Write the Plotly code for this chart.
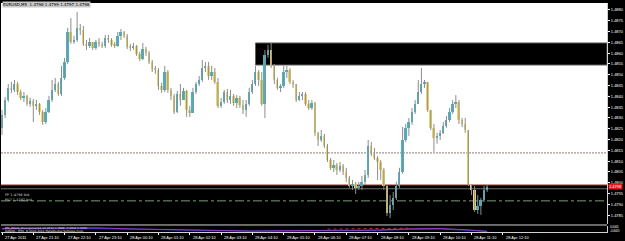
import plotly.graph_objects as go

# ---------------- data (EURUSD bars) ----------------
first_open = 1.48254
closes = [1.48314, 1.48383, 1.48439, 1.48430, 1.48457, 1.48420, 1.48393, 1.48402, 1.48365, 1.48379,
          1.48356, 1.48365, 1.48328, 1.48281, 1.48328, 1.48383, 1.48430, 1.48457, 1.48411, 1.48485,
          1.48559, 1.48698, 1.48652, 1.48661, 1.48717, 1.48707, 1.48643, 1.48633, 1.48652, 1.48624,
          1.48652, 1.48643, 1.48633, 1.48670, 1.48661, 1.48638, 1.48633, 1.48680, 1.48698, 1.48680,
          1.48629, 1.48624, 1.48633, 1.48596, 1.48573, 1.48619, 1.48601, 1.48559, 1.48527, 1.48522,
          1.48448, 1.48430, 1.48513, 1.48430, 1.48402, 1.48328, 1.48411, 1.48383, 1.48425, 1.48337,
          1.48323, 1.48420, 1.48457, 1.48476, 1.48531, 1.48541, 1.48494, 1.48513, 1.48467, 1.48356,
          1.48374, 1.48420, 1.48383, 1.48402, 1.48369, 1.48393, 1.48360, 1.48337, 1.48365, 1.48420,
          1.48457, 1.48513, 1.48476, 1.48365, 1.48592, 1.48615, 1.48541, 1.48476, 1.48439, 1.48448,
          1.48513, 1.48522, 1.48467, 1.48457, 1.48383, 1.48402, 1.48411, 1.48365, 1.48346, 1.48369,
          1.48231, 1.48198, 1.48217, 1.48170, 1.48105, 1.48069, 1.48082, 1.48059, 1.48078, 1.48050,
          1.48022, 1.47985, 1.47994, 1.47976, 1.47985, 1.48004, 1.48036, 1.48170, 1.48143, 1.48115,
          1.48096, 1.48059, 1.47985, 1.47860, 1.47897, 1.47930, 1.47985, 1.48050, 1.48198, 1.48254,
          1.48281, 1.48328, 1.48365, 1.48420, 1.48457, 1.48467, 1.48337, 1.48254, 1.48207, 1.48217,
          1.48231, 1.48263, 1.48291, 1.48328, 1.48365, 1.48374, 1.48291, 1.48272, 1.48244, 1.47994,
          1.47967, 1.47874, 1.47893, 1.47920, 1.47967, 1.47981]
highs = [1.48337, 1.48397, 1.48457, 1.48467, 1.48476, 1.48467, 1.48430, 1.48420, 1.48406, 1.48393,
         1.48388, 1.48383, 1.48369, 1.48337, 1.48346, 1.48402, 1.48476, 1.48485, 1.48467, 1.48541,
         1.48578, 1.48717, 1.48763, 1.48680, 1.48791, 1.48735, 1.48726, 1.48661, 1.48670, 1.48652,
         1.48661, 1.48670, 1.48652, 1.48684, 1.48684, 1.48670, 1.48652, 1.48698, 1.48712, 1.48703,
         1.48689, 1.48643, 1.48647, 1.48638, 1.48606, 1.48647, 1.48629, 1.48610, 1.48568, 1.48541,
         1.48531, 1.48462, 1.48541, 1.48522, 1.48439, 1.48411, 1.48425, 1.48457, 1.48439, 1.48430,
         1.48356, 1.48439, 1.48467, 1.48494, 1.48568, 1.48559, 1.48559, 1.48541, 1.48531, 1.48485,
         1.48393, 1.48430, 1.48434, 1.48430, 1.48411, 1.48406, 1.48402, 1.48383, 1.48383, 1.48439,
         1.48476, 1.48541, 1.48522, 1.48513, 1.48615, 1.48638, 1.48647, 1.48550, 1.48485, 1.48457,
         1.48541, 1.48541, 1.48531, 1.48476, 1.48457, 1.48420, 1.48420, 1.48420, 1.48383, 1.48383,
         1.48374, 1.48235, 1.48244, 1.48226, 1.48180, 1.48115, 1.48105, 1.48092, 1.48096, 1.48087,
         1.48069, 1.48031, 1.48013, 1.48004, 1.48004, 1.48031, 1.48059, 1.48198, 1.48189, 1.48161,
         1.48124, 1.48105, 1.48069, 1.47990, 1.47943, 1.47957, 1.48004, 1.48069, 1.48258, 1.48272,
         1.48300, 1.48346, 1.48383, 1.48476, 1.48531, 1.48476, 1.48467, 1.48337, 1.48272, 1.48231,
         1.48244, 1.48281, 1.48309, 1.48346, 1.48383, 1.48406, 1.48383, 1.48300, 1.48300, 1.48244,
         1.47994, 1.47985, 1.47943, 1.47930, 1.47985, 1.47990]
lows = [1.48221, 1.48300, 1.48374, 1.48416, 1.48420, 1.48406, 1.48383, 1.48374, 1.48356, 1.48351,
        1.48281, 1.48337, 1.48314, 1.48268, 1.48272, 1.48323, 1.48374, 1.48420, 1.48402, 1.48402,
        1.48476, 1.48550, 1.48643, 1.48643, 1.48652, 1.48684, 1.48633, 1.48615, 1.48624, 1.48615,
        1.48615, 1.48629, 1.48624, 1.48624, 1.48647, 1.48629, 1.48624, 1.48629, 1.48661, 1.48670,
        1.48619, 1.48610, 1.48615, 1.48587, 1.48564, 1.48568, 1.48587, 1.48550, 1.48513, 1.48504,
        1.48430, 1.48416, 1.48420, 1.48416, 1.48383, 1.48318, 1.48323, 1.48356, 1.48383, 1.48305,
        1.48305, 1.48323, 1.48411, 1.48448, 1.48467, 1.48513, 1.48476, 1.48476, 1.48457, 1.48346,
        1.48346, 1.48365, 1.48369, 1.48365, 1.48356, 1.48346, 1.48346, 1.48318, 1.48305, 1.48356,
        1.48411, 1.48448, 1.48448, 1.48356, 1.48300, 1.48578, 1.48531, 1.48457, 1.48430, 1.48420,
        1.48439, 1.48485, 1.48457, 1.48439, 1.48374, 1.48379, 1.48383, 1.48356, 1.48337, 1.48337,
        1.48217, 1.48170, 1.48189, 1.48161, 1.48096, 1.48059, 1.48050, 1.48036, 1.48050, 1.48036,
        1.48004, 1.47976, 1.47967, 1.47948, 1.47967, 1.47967, 1.47990, 1.48022, 1.48124, 1.48105,
        1.48013, 1.48013, 1.47967, 1.47846, 1.47837, 1.47874, 1.47920, 1.47976, 1.48041, 1.48189,
        1.48217, 1.48268, 1.48318, 1.48365, 1.48411, 1.48439, 1.48328, 1.48244, 1.48143, 1.48180,
        1.48198, 1.48226, 1.48254, 1.48281, 1.48318, 1.48346, 1.48272, 1.48258, 1.48231, 1.47985,
        1.47943, 1.47865, 1.47856, 1.47851, 1.47911, 1.47957]
# each bar opens where the previous one closed
opens = [first_open] + closes[:-1]

time_labels = ["27 Apr 2011", "27 Apr 21:10", "27 Apr 22:10", "27 Apr 23:10", "28 Apr 00:10",
               "28 Apr 01:10", "28 Apr 02:10", "28 Apr 03:10", "28 Apr 04:10", "28 Apr 05:10",
               "28 Apr 06:10", "28 Apr 07:10", "28 Apr 08:10", "28 Apr 09:10", "28 Apr 10:10",
               "28 Apr 11:10", "28 Apr 12:10"]
label_bars = [0, 10, 20, 30, 40, 50, 60, 70, 80, 90, 100, 110, 120, 130, 140, 150, 160]

price_ticks = [1.4785, 1.4790, 1.4795, 1.4800, 1.4805, 1.4810, 1.4815, 1.4820, 1.4825, 1.4830,
               1.4835, 1.4840, 1.4845, 1.4850, 1.4855, 1.4860, 1.4865, 1.4870, 1.4875, 1.4880]

# levels / zones
zone_top = [1.48545, 1.48647]      # black supply box
zone_bottom_top = 1.47990          # top of black lower zone
dashed_level = 1.48138
dashdot_level = 1.47916
bid_price = 1.47981

# sub-window oscillator
sub_bars = [0, 10, 20, 30, 40, 50, 60, 70, 80, 90, 100, 110, 120, 130, 140, 150, 155]
osc_purple = [0.55, 0.60, 0.70, 0.65, 0.50, 0.40, 0.30, 0.20, 0.15, 0.20, 0.25, 0.20, 0.30, 0.50, 0.55, 0.30, 0.10]
osc_blue = [0.45, 0.50, 0.55, 0.55, 0.45, 0.35, 0.28, 0.18, 0.12, 0.15, 0.20, 0.18, 0.25, 0.40, 0.45, 0.25, 0.08]
red_bars = [104, 115, 125, 130]
osc_red = [0.45, 0.55, 0.60, 0.60]
sub_lines = ["RSI_MACD_Divergence(14,12,26,9) 0.4999 -0.0002 0.0000",
             "OANDA - MT4, © 2001-2011 MetaQuotes Software Corp."]
sub_ticks = ["0.0005", "-0.0005"]

# ---------------- figure ----------------
UP = "#40b8cc"
DN = "#ecd66c"
FONT = "DejaVu Sans"
AXFONT = "Liberation Sans"

n = len(closes)
idx = list(range(n))

wx, wy = [], []
for i in idx:
    wx += [i, i, None]
    wy += [lows[i], highs[i], None]

up_i = [i for i in idx if closes[i] >= opens[i]]
dn_i = [i for i in idx if closes[i] < opens[i]]
minh = 0.00003

def bodies(ids):
    base = [min(opens[i], closes[i]) for i in ids]
    hgt = [max(abs(closes[i] - opens[i]), minh) for i in ids]
    return base, hgt

fig = go.Figure()
fig.add_trace(go.Scatter(x=wx, y=wy, mode="lines", line=dict(color="#8c8c8c", width=1),
                         hoverinfo="skip", showlegend=False, xaxis="x", yaxis="y"))
b, h = bodies(up_i)
fig.add_trace(go.Bar(x=up_i, y=h, base=b, width=0.62, marker=dict(color=UP, line=dict(width=0)),
                     showlegend=False, xaxis="x", yaxis="y", hoverinfo="skip"))
b, h = bodies(dn_i)
fig.add_trace(go.Bar(x=dn_i, y=h, base=b, width=0.62, marker=dict(color=DN, line=dict(width=0)),
                     showlegend=False, xaxis="x", yaxis="y", hoverinfo="skip"))

fig.add_trace(go.Scatter(x=sub_bars, y=osc_blue, mode="lines", line=dict(color="#3030c0", width=1),
                         showlegend=False, xaxis="x", yaxis="y2", hoverinfo="skip"))
fig.add_trace(go.Scatter(x=sub_bars, y=osc_purple, mode="lines", line=dict(color="#9040c8", width=1),
                         showlegend=False, xaxis="x", yaxis="y2", hoverinfo="skip"))
fig.add_trace(go.Scatter(x=red_bars, y=osc_red, mode="lines", line=dict(color="#c03030", width=1, dash="dot"),
                         showlegend=False, xaxis="x", yaxis="y2", hoverinfo="skip"))

YMIN, YMAX = 1.47809, 1.48832
XMIN, XMAX = -0.32, 193.3

shapes = [
    # white main pane
    dict(type="rect", xref="paper", yref="y domain", x0=0, x1=1, y0=0, y1=1,
         fillcolor="white", line=dict(width=0), layer="below"),
    # black lower zone
    dict(type="rect", xref="paper", yref="y", x0=0, x1=1, y0=YMIN - 0.001, y1=zone_bottom_top,
         fillcolor="black", line=dict(width=0), layer="below"),
    # black upper box
    dict(type="rect", xref="x", yref="y", x0=81, x1=XMAX, y0=zone_top[0], y1=zone_top[1],
         fillcolor="black", line=dict(width=1, color="#606060"), layer="below"),
    dict(type="line", xref="paper", yref="y", x0=0, x1=1, y0=dashed_level, y1=dashed_level,
         line=dict(color="#8c7c70", width=1, dash="2px,1px"), layer="below"),
    dict(type="line", xref="paper", yref="y", x0=0, x1=1, y0=dashdot_level, y1=dashdot_level,
         line=dict(color="#78a078", width=1, dash="dashdot"), layer="below"),
    dict(type="line", xref="paper", yref="y", x0=0, x1=1, y0=zone_bottom_top, y1=zone_bottom_top,
         line=dict(color="#b05a50", width=1), layer="below"),
    dict(type="line", xref="paper", yref="y", x0=0, x1=1, y0=1.47972, y1=1.47972,
         line=dict(color="#707070", width=1), layer="below"),
    # separator between panes
    dict(type="line", xref="paper", yref="paper", x0=0, x1=1, y0=0.0306, y1=0.0306,
         line=dict(color="#d0d0d0", width=1)),
]

annotations = []
for b_, t in zip(label_bars, time_labels):
    annotations.append(dict(x=b_, xref="x", y=0, yref="paper", yanchor="top", xanchor="left",
                            yshift=-1, xshift=1, text=t, showarrow=False,
                            font=dict(size=4, color="white", family=AXFONT)))
# sub-window texts, one line each (paper y of 228 px and 230.8 px)
for ypos, t in zip([0.0185, 0.0060], sub_lines):
    annotations.append(dict(x=0.003, xref="paper", y=ypos, yref="paper", xanchor="left",
                            yanchor="middle", text=t, showarrow=False,
                            font=dict(size=2.8, color="#e0e0e0", family=FONT)))
for ypos, t in zip([0.0215, 0.0050], sub_ticks):
    annotations.append(dict(x=1, xref="paper", y=ypos, yref="paper", xanchor="left",
                            yanchor="middle", xshift=1, text=t, showarrow=False,
                            font=dict(size=2.8, color="white", family=AXFONT)))
annotations += [
    dict(x=0.002, xref="paper", y=1, yref="paper", xanchor="left", yanchor="top", yshift=2,
         text="EURUSD,M5  1.4798 1.4799 1.4797 1.4798", showarrow=False, bgcolor="#c8c8c8",
         font=dict(size=4, color="black", family=FONT), borderpad=0),
    dict(x=1, xref="paper", y=bid_price, yref="y", xanchor="left", xshift=1,
         text="1.4798", showarrow=False, bgcolor="#e01818", borderpad=0,
         font=dict(size=4, color="white", family=AXFONT)),
    dict(x=0.003, xref="paper", y=1.47932, yref="y", xanchor="left", yanchor="middle",
         text="PP 1.4799 bid<br>PV2 1.4792 bid", showarrow=False, align="left",
         font=dict(size=3.5, color="#c8c8c8", family=FONT)),
]

fig.update_layout(
    width=625, height=241,
    margin=dict(l=1, r=14, t=3, b=9, pad=0),
    paper_bgcolor="black", plot_bgcolor="black",
    barmode="overlay", bargap=0, showlegend=False,
    xaxis=dict(domain=[0, 1], anchor="y2", range=[XMIN, XMAX], showgrid=False, zeroline=False,
               tickvals=label_bars, ticktext=[""] * len(label_bars), ticks="outside", ticklen=2,
               tickcolor="white", showline=True, linecolor="#d0d0d0", linewidth=1),
    yaxis=dict(domain=[0.035, 1], anchor="x", side="right", range=[YMIN, YMAX], showgrid=False,
               zeroline=False, tickvals=price_ticks, ticktext=["%.4f" % v for v in price_ticks],
               ticks="outside", ticklen=2, tickcolor="white",
               tickfont=dict(size=4, color="white", family=AXFONT),
               showline=True, linecolor="#d0d0d0", linewidth=1),
    yaxis2=dict(domain=[0, 0.028], anchor="x", side="right", range=[0, 1], showgrid=False,
                zeroline=False, showticklabels=False, showline=True, linecolor="#d0d0d0", linewidth=1),
    shapes=shapes, annotations=annotations,
    hovermode=False,
)

fig.write_html("out.html")
